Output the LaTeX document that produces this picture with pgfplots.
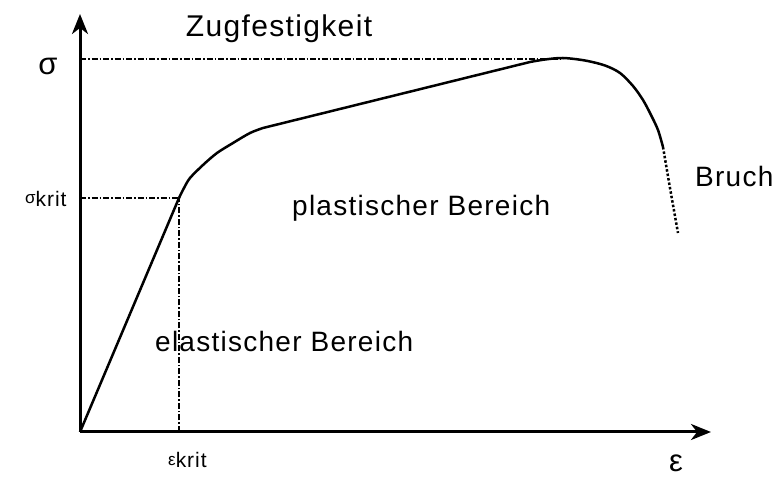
\documentclass[border=0pt]{standalone}
\usepackage{fontspec}
\setmainfont[LetterSpace=4.5]{Liberation Sans}
\usepackage{pgfplots}
\pgfplotsset{compat=1.18}
\usetikzlibrary{arrows.meta}
\begin{document}
\begin{tikzpicture}
\begin{axis}[
  x=1pt, y=1pt,
  xmin=-80, xmax=696, ymin=-47, ymax=432,
  axis lines=none, clip=false,
]
\path (axis cs:-80,-47) rectangle (axis cs:696,432);
% axes
\addplot[line width=3pt, -{Stealth[length=20pt,width=16pt,inset=6pt]}] coordinates {(0,0) (631,0)};
\addplot[line width=3pt, -{Stealth[length=20pt,width=16pt,inset=6pt]}] coordinates {(0,0) (0,418)};
% helper lines
\addplot[line width=1.1pt, dash pattern=on 6pt off 2pt on 1.5pt off 2pt] coordinates {(0,373) (483,373)};
\addplot[line width=1.1pt, dash pattern=on 6pt off 2pt on 1.5pt off 2pt] coordinates {(0,234) (99,234)};
\addplot[line width=1.1pt, dash pattern=on 6pt off 2pt on 1.5pt off 2pt] coordinates {(99,0) (99,234)};
% curve
\addplot[line width=2.5pt] coordinates {(0,0) (99,234)};
\addplot[line width=2.5pt, smooth] coordinates {(99,234) (104,244) (110,254) (123,267) (137,279) (153,289) (170,299) (183,304)};
\addplot[line width=2.5pt] coordinates {(183,304) (450,370)};
\addplot[line width=2.5pt, smooth] coordinates {(450,370) (465,372.5) (483,374) (505,371.5) (525,366.5) (540,359) (553,346) (563,332) (571,317) (578,302) (583,285)};
\addplot[line width=2.5pt, dotted, smooth] coordinates {(583,285) (590,244) (598,199)};
% labels
\node[anchor=base, font=\fontsize{30}{32}\selectfont] at (axis cs:199,395) {Zugfestigkeit};
\node[anchor=base, font=\fontsize{31}{32}\selectfont] at (axis cs:-32,357) {σ};
\node[anchor=base west, inner sep=0pt, font=\fontsize{21}{22}\selectfont] at (axis cs:-55,225) {\raisebox{3pt}{\fontsize{17}{17}\selectfont σ}krit};
\node[anchor=base west, inner sep=0pt, font=\fontsize{21}{22}\selectfont] at (axis cs:88,-36) {\raisebox{3pt}{\fontsize{17}{17}\selectfont ε}krit};
\node[anchor=base, inner sep=0pt, font=\fontsize{31}{32}\selectfont] at (axis cs:596,-39) {ε};
\node[anchor=base west, inner sep=0pt, font=\fontsize{28}{30}\selectfont] at (axis cs:615,245) {Bruch};
\node[anchor=base west, inner sep=0pt, font=\fontsize{28}{30}\selectfont] at (axis cs:212,216) {plastischer Bereich};
\node[anchor=base west, inner sep=0pt, font=\fontsize{28}{30}\selectfont] at (axis cs:75,80) {elastischer Bereich};
\end{axis}
\end{tikzpicture}
\end{document}
